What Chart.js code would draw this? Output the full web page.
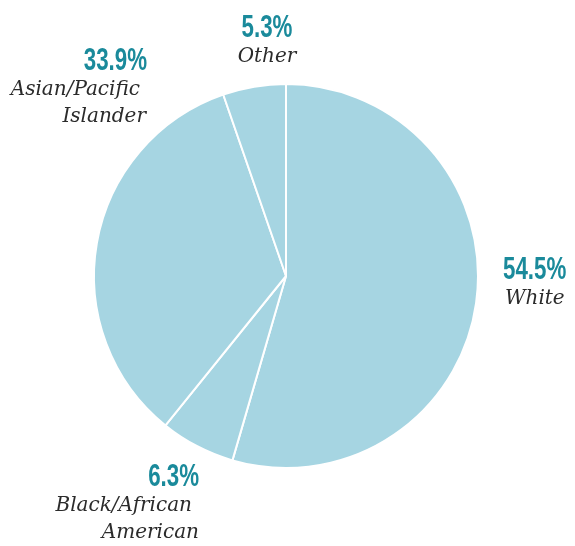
<!DOCTYPE html>
<html>
<head>
<meta charset="utf-8">
<script src="https://cdn.jsdelivr.net/npm/chart.js@4"></script>
<style>
  html, body { margin: 0; padding: 0; background: #fff; }
  #wrap { width: 575px; height: 546px; }
</style>
</head>
<body>
<div id="wrap"><canvas id="myChart" width="575" height="546"></canvas></div>
<script>
// race / ethnicity breakdown, clockwise from 12 o'clock
const labels = ['White', 'Black/African American', 'Asian/Pacific Islander', 'Other']
const values = [54.5, 6.3, 33.9, 5.3]
// label lines as they wrap on the chart
const nameLines = [['White'], ['Black/African', 'American'], ['Asian/Pacific', 'Islander'], ['Other']]

const pieColor = '#a6d5e2'
const valueColor = '#1a8a9b'
const nameColor = '#2b2b2b'

// where each label block sits, relative to pie centre (dx, dy of value baseline) and its alignment
const labelPos = [
  { dx: 217, dy: 3, align: 'left', nameShift: [2] },
  { dx: -87, dy: 210, align: 'right', nameShift: [-7, 0] },
  { dx: -139, dy: -206, align: 'right', nameShift: [-7, -1] },
  { dx: -19, dy: -239, align: 'center', nameShift: [0] }
]

// condensed bold numbers: squeeze a regular bold face horizontally
const drawCondensed = (ctx, text, x, y, align, sx) => {
  ctx.save()
  ctx.translate(x, y)
  ctx.scale(sx, 1)
  ctx.textAlign = align
  ctx.fillText(text, 0, 0)
  ctx.restore()
}

const pieLabels = {
  id: 'pieLabels',
  afterDraw(chart) {
    const ctx = chart.ctx
    const arc = chart.getDatasetMeta(0).data[0]
    const cx = arc.x, cy = arc.y
    ctx.save()
    values.forEach((v, i) => {
      const p = labelPos[i]
      const x = cx + p.dx
      const y = cy + p.dy
      ctx.textBaseline = 'alphabetic'
      ctx.fillStyle = valueColor
      ctx.font = 'bold 31px "Liberation Sans", Arial, sans-serif'
      drawCondensed(ctx, v.toFixed(1) + '%', x, y, p.align, 0.72)
      ctx.textAlign = p.align
      ctx.fillStyle = nameColor
      ctx.font = 'italic 20px "DejaVu Serif", "Liberation Serif", serif'
      nameLines[i].forEach((line, j) => {
        ctx.fillText(line, x + (p.nameShift[j] || 0), y + 27 * (j + 1) - 2)
      })
    })
    ctx.restore()
  }
}

const createChart = () => {
  let ctx = document.getElementById('myChart')
  new Chart(ctx, {
    type: 'pie',
    data: {
      labels: labels,
      datasets: [{
        data: values,
        backgroundColor: pieColor,
        borderColor: '#ffffff',
        borderWidth: 2
      }]
    },
    options: {
      responsive: false,
      animation: false,
      layout: { padding: { left: 93, right: 96, top: 83, bottom: 77 } },
      plugins: {
        legend: { display: false },
        tooltip: { enabled: false }
      }
    },
    plugins: [pieLabels]
  })
}

createChart()
</script>
</body>
</html>
